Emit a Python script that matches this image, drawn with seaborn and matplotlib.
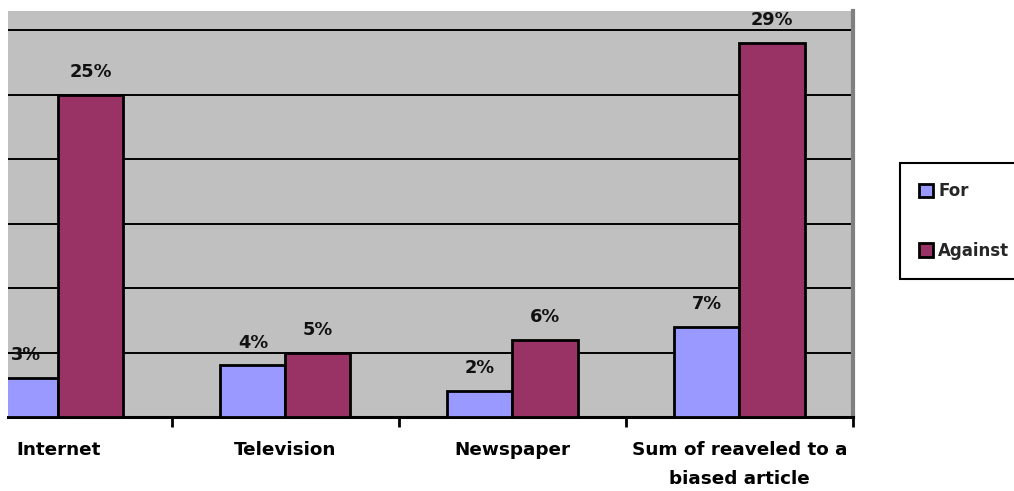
import matplotlib
matplotlib.use("Agg")
import matplotlib.pyplot as plt
import seaborn as sns
import pandas as pd
from matplotlib.patches import Patch

categories = ["Internet", "Television", "Newspaper", "Sum of reaveled to a\nbiased article"]
series = ["For", "Against"]
for_vals = [3, 4, 2, 7]
against_vals = [25, 5, 6, 29]
colors = ["#9999FF", "#993366"]

df = pd.DataFrame({
    "category": categories * 2,
    "series": ["For"] * 4 + ["Against"] * 4,
    "value": for_vals + against_vals,
})

sns.set_theme(style="white")
plt.rcParams["font.family"] = ["DejaVu Sans"]

W, H = 1014, 491
fig = plt.figure(figsize=(W / 100, H / 100), dpi=100)
ax = fig.add_axes([8 / W, (H - 417) / H, (853 - 8) / W, (417 - 11) / H])
ax.set_facecolor("#C0C0C0")

sns.barplot(data=df, x="category", y="value", hue="series", hue_order=series,
            palette=colors, width=0.573, edgecolor="black", linewidth=2,
            saturation=1, ax=ax, legend=False, zorder=3)

ax.set_ylim(0, 31.5)
ax.set_xlim(-0.222, 3.5)
ax.set_yticks([5, 10, 15, 20, 25, 30])
ax.yaxis.grid(True, color="black", linewidth=1.4, zorder=1)
ax.set_axisbelow(True)
ax.tick_params(axis="y", left=False, labelleft=False)

# category boundary ticks
ax.set_xticks([0.5, 1.5, 2.5, 3.5])
ax.set_xticklabels([])
ax.tick_params(axis="x", bottom=True, length=7, width=2, color="black", direction="out")
for i, c in enumerate(categories):
    ax.text(i, -1.85, c, ha="center", va="top", fontsize=13.2, fontweight="bold",
            color="black", linespacing=1.8)

ax.set_xlabel("")
ax.set_ylabel("")

for s in ["top", "left"]:
    ax.spines[s].set_visible(False)
ax.spines["bottom"].set_color("black")
ax.spines["bottom"].set_linewidth(2.2)
ax.spines["right"].set_color("#808080")
ax.spines["right"].set_linewidth(3)

# value labels
for cont in ax.containers:
    labels = [f"{int(v)}%" for v in cont.datavalues]
    ax.bar_label(cont, labels=labels, padding=10, fontsize=12.8, fontweight="bold",
                 color="#111111")

handles = [Patch(facecolor=colors[0], edgecolor="black", linewidth=2),
           Patch(facecolor=colors[1], edgecolor="black", linewidth=2)]
leg = fig.legend(handles, series, loc="upper left",
                 bbox_to_anchor=(900 / W, 1 - 163 / H), frameon=True,
                 fancybox=False, edgecolor="black", framealpha=1,
                 fontsize=12, handlelength=0.85, handleheight=0.85,
                 handletextpad=0.3, labelspacing=2.5, borderpad=1.15,
                 borderaxespad=0)
leg.get_frame().set_linewidth(1.5)
for t in leg.get_texts():
    t.set_fontweight("bold")

fig.savefig("out.png", dpi=100)
